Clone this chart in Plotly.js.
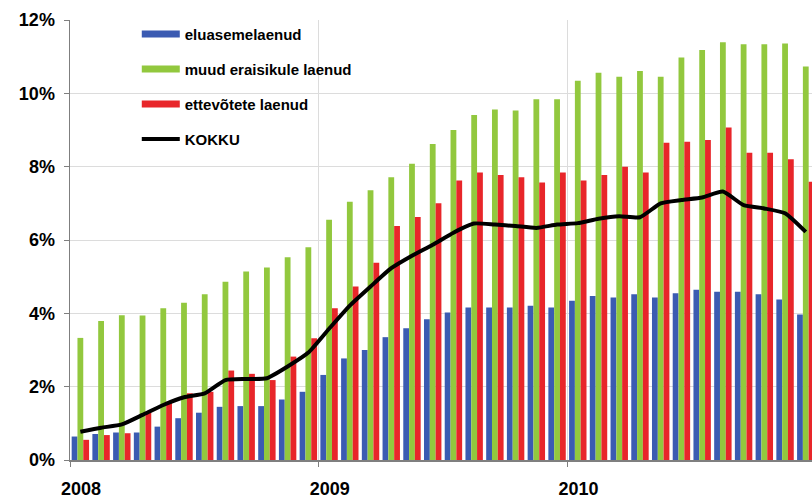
<!DOCTYPE html>
<html>
<head>
<meta charset="utf-8">
<script src="https://cdn.plot.ly/plotly-3.0.1.min.js"></script>
<style>html,body{margin:0;padding:0;background:#fff;}#chart{width:812px;height:500px;}</style>
</head>
<body>
<div id="chart"></div>
<script>
const months = ["2008-01","2008-02","2008-03","2008-04","2008-05","2008-06","2008-07","2008-08","2008-09","2008-10","2008-11","2008-12",
"2009-01","2009-02","2009-03","2009-04","2009-05","2009-06","2009-07","2009-08","2009-09","2009-10","2009-11","2009-12",
"2010-01","2010-02","2010-03","2010-04","2010-05","2010-06","2010-07","2010-08","2010-09","2010-10","2010-11","2010-12"];
const yearLabels = ["2008","2009","2010"];
const eluasemelaenud = [0.64,0.71,0.75,0.75,0.91,1.14,1.29,1.45,1.47,1.47,1.65,1.86,
2.32,2.77,3.00,3.35,3.59,3.84,4.02,4.16,4.16,4.16,4.21,4.16,
4.34,4.47,4.43,4.52,4.43,4.55,4.64,4.59,4.59,4.52,4.38,3.97];
const muudEraisikuleLaenud = [3.33,3.79,3.95,3.94,4.14,4.29,4.52,4.86,5.14,5.25,5.53,5.80,
6.55,7.04,7.36,7.71,8.08,8.62,9.00,9.41,9.56,9.53,9.84,9.84,
10.34,10.56,10.45,10.61,10.45,10.98,11.18,11.39,11.34,11.34,11.36,10.73];
const ettevoteteLaenud = [0.55,0.68,0.73,1.32,1.59,1.82,1.86,2.44,2.35,2.18,2.82,3.32,
4.14,4.73,5.38,6.38,6.63,7.00,7.62,7.84,7.77,7.71,7.57,7.84,
7.62,7.77,8.00,7.84,8.65,8.68,8.73,9.07,8.38,8.38,8.20,7.59];
const kokku = [0.77,0.88,0.97,1.23,1.50,1.71,1.82,2.18,2.21,2.23,2.55,2.93,
3.58,4.21,4.73,5.23,5.57,5.87,6.20,6.45,6.42,6.38,6.33,6.42,
6.46,6.58,6.65,6.62,7.00,7.09,7.16,7.32,6.95,6.86,6.73,6.22];
const seriesNames = ["eluasemelaenud","muud eraisikule laenud","ettevõtete laenud","KOKKU"];

const colors = ["#3b5bb2","#92c83e","#e8262a","#000000"];
const xs = months.map((m, i) => i);
const yearStarts = months.map((m, i) => m.endsWith("-01") ? i - 0.5 : null).filter(v => v !== null);

const barSeries = [eluasemelaenud, muudEraisikuleLaenud, ettevoteteLaenud];
const traces = [];
barSeries.forEach((vals, k) => {
  traces.push({type: "bar", x: xs, y: vals, name: seriesNames[k], marker: {color: colors[k]},
    showlegend: false, hoverinfo: "skip"});
});
traces.push({type: "scatter", mode: "lines", x: xs, y: kokku, name: seriesNames[3],
  line: {color: "#000", width: 4, shape: "spline", smoothing: 0.5}, showlegend: false});
// legend entries
seriesNames.forEach((n, k) => {
  traces.push({type: "scatter", mode: "lines", x: [null], y: [null], name: n,
    legendgroup: "g" + k, line: {color: colors[k], width: k === 3 ? 4 : 7}});
});

const font = {family: "Liberation Sans, Arial, sans-serif", color: "#000"};
const layout = {
  width: 812, height: 500,
  margin: {l: 70, r: 0, t: 20, b: 40},
  paper_bgcolor: "#fff", plot_bgcolor: "#fff",
  font: font,
  bargap: 0.16, bargroupgap: 0, barmode: "group",
  xaxis: {range: [-0.5, 35.3], tickmode: "array", tickvals: yearStarts, ticktext: yearLabels,
    showgrid: true, gridcolor: "#dcdcdc", gridwidth: 1, zeroline: false,
    showline: true, linecolor: "#7f7f7f", linewidth: 1.5,
    ticks: "outside", ticklen: 5, tickcolor: "#7f7f7f", ticklabelshift: 11, ticklabelstandoff: 7,
    tickfont: {family: font.family, size: 18, weight: 700, color: "#000"}},
  yaxis: {range: [0, 12], dtick: 2, ticksuffix: "%", showgrid: true, gridcolor: "#dcdcdc", gridwidth: 1,
    zeroline: false, showline: true, linecolor: "#7f7f7f", linewidth: 1.5,
    ticks: "outside", ticklen: 5, tickcolor: "#7f7f7f", ticklabelstandoff: 5,
    tickfont: {family: font.family, size: 18, weight: 700, color: "#000"}},
  legend: {x: 0.09, y: 1.005, xanchor: "left", yanchor: "top", bgcolor: "rgba(0,0,0,0)",
    itemwidth: 38, tracegroupgap: 12.5, traceorder: "grouped",
    font: {family: font.family, size: 15, weight: 700, color: "#000"}},
  showlegend: true
};
Plotly.newPlot("chart", traces, layout, {staticPlot: true, displayModeBar: false});
</script>
</body>
</html>
